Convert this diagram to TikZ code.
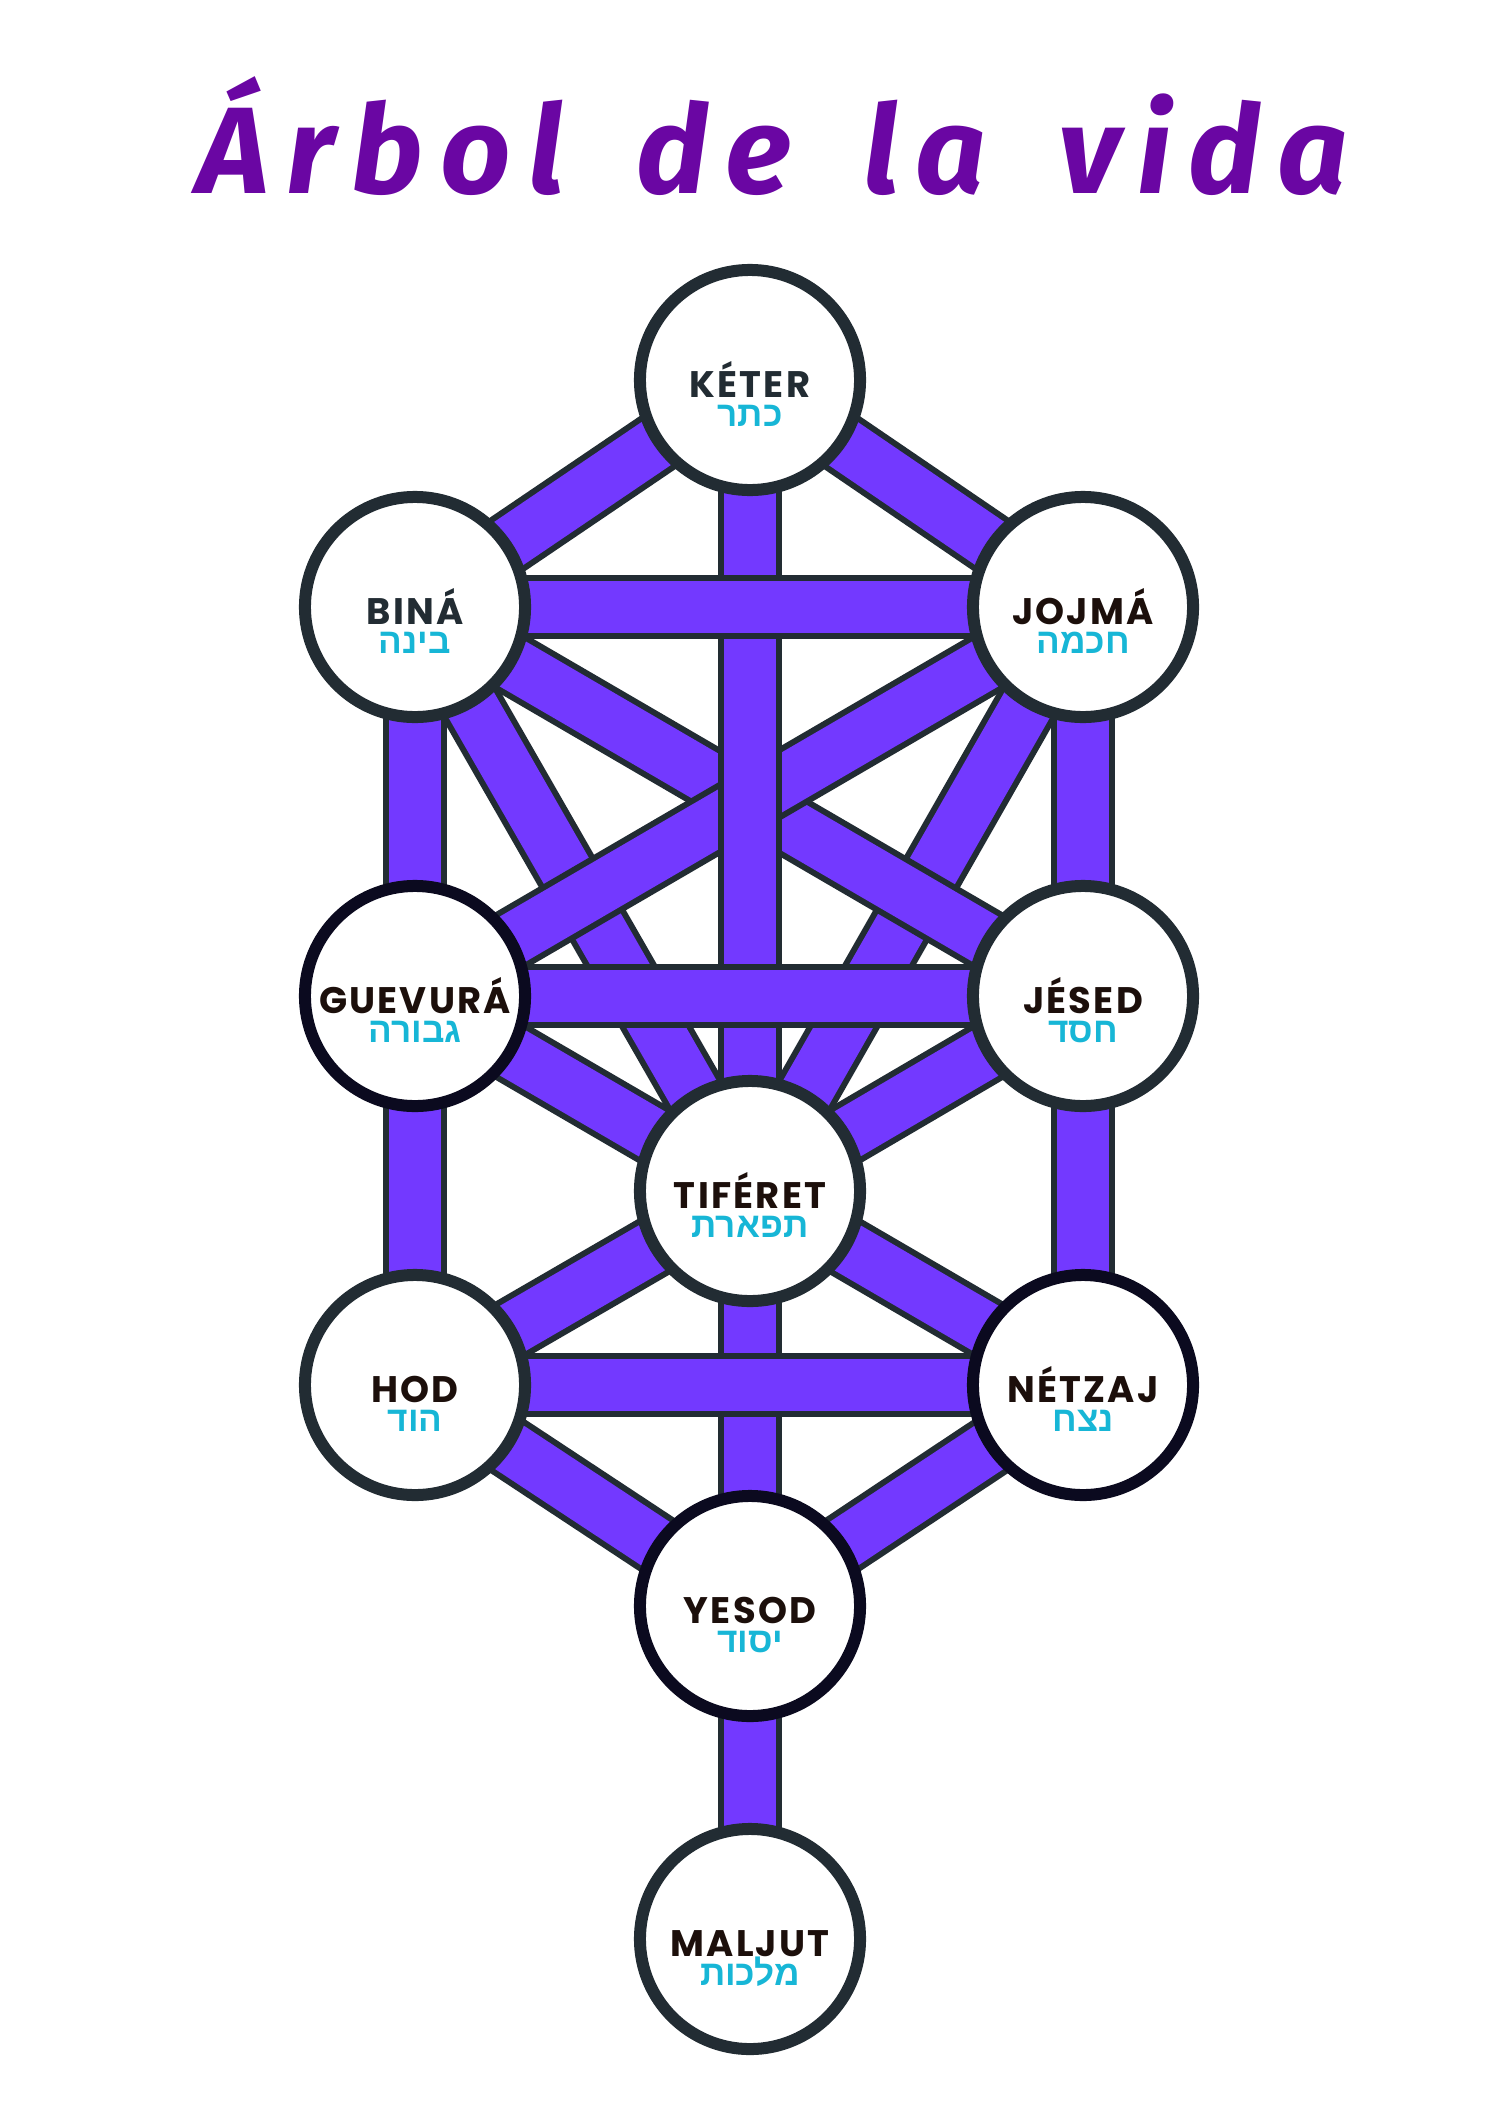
\documentclass[tikz,border=0pt]{standalone}
\usepackage{fontspec}
\usepackage{xcolor}
\usetikzlibrary{calc,backgrounds}
\TeXXeTstate=1
\newfontfamily\titlefont{Fira Sans}[LetterSpace=14, WordSpace=1.6]
\newfontfamily\namefont{Poppins}[LetterSpace=6]
\newfontfamily\hebfont[Script=Hebrew]{Liberation Sans}
\definecolor{barfill}{HTML}{7339FF}
\definecolor{slate}{HTML}{222C33}
\definecolor{nightink}{HTML}{0B0A1F}
\definecolor{cocoa}{HTML}{1C0F0B}
\definecolor{hebcyan}{HTML}{17B6D6}
\definecolor{titlepurple}{HTML}{6A06A3}
\tikzset{every node/.append style={inner sep=0pt}}

\begin{document}
\begin{tikzpicture}[x=0.01cm, y=-0.01cm,
    sefira/.style={circle, draw=slate, line width=0.12cm, fill=white, minimum size=2.2cm},
    dark sefira/.style={sefira, draw=nightink},
    bar/.style={draw=slate, line width=0.06cm, double=barfill, double distance=0.52cm},
    latin/.style={anchor=base, text=cocoa, font=\namefont\bfseries\fontsize{10.5}{12}\selectfont},
    hebrew/.style={anchor=base, text=hebcyan, font=\hebfont\bfseries\fontsize{10}{12}\selectfont}]
    \useasboundingbox (0,0) rectangle (1500,2121);
    % title
    \node[anchor=base, text=titlepurple, font=\titlefont\bfseries\itshape\fontsize{35}{40}\selectfont] (title) at (773,193) {Árbol de la vida};
    % the ten sefirot
    \node[sefira] (keter) at (750,380) {};
    \node[sefira] (bina) at (415,607) {};
    \node[sefira] (jojma) at (1083,607) {};
    \node[dark sefira] (guevura) at (415,996) {};
    \node[sefira] (jesed) at (1083,996) {};
    \node[sefira] (tiferet) at (750,1191) {};
    \node[sefira] (hod) at (415,1385) {};
    \node[dark sefira] (netzaj) at (1083,1385) {};
    \node[dark sefira] (yesod) at (750,1606) {};
    \node[sefira] (maljut) at (750,1939) {};
    % names
    \node[latin, text=slate] (keter-es) at ($(keter)+(0,17)$) {KÉTER};
    \node[hebrew] (keter-he) at ($(keter)+(0,46)$) {\beginR כתר\endR};
    \node[latin, text=slate] (bina-es) at ($(bina)+(0,17)$) {BINÁ};
    \node[hebrew] (bina-he) at ($(bina)+(0,46)$) {\beginR בינה\endR};
    \node[latin] (jojma-es) at ($(jojma)+(0,17)$) {JOJMÁ};
    \node[hebrew] (jojma-he) at ($(jojma)+(0,46)$) {\beginR חכמה\endR};
    \node[latin] (guevura-es) at ($(guevura)+(0,17)$) {GUEVURÁ};
    \node[hebrew] (guevura-he) at ($(guevura)+(0,46)$) {\beginR גבורה\endR};
    \node[latin] (jesed-es) at ($(jesed)+(0,17)$) {JÉSED};
    \node[hebrew] (jesed-he) at ($(jesed)+(0,46)$) {\beginR חסד\endR};
    \node[latin] (tiferet-es) at ($(tiferet)+(0,17)$) {TIFÉRET};
    \node[hebrew] (tiferet-he) at ($(tiferet)+(0,46)$) {\beginR תפארת\endR};
    \node[latin] (hod-es) at ($(hod)+(0,17)$) {HOD};
    \node[hebrew] (hod-he) at ($(hod)+(0,46)$) {\beginR הוד\endR};
    \node[latin] (netzaj-es) at ($(netzaj)+(0,17)$) {NÉTZAJ};
    \node[hebrew] (netzaj-he) at ($(netzaj)+(0,46)$) {\beginR נצח\endR};
    \node[latin] (yesod-es) at ($(yesod)+(0,17)$) {YESOD};
    \node[hebrew] (yesod-he) at ($(yesod)+(0,46)$) {\beginR יסוד\endR};
    \node[latin] (maljut-es) at ($(maljut)+(0,17)$) {MALJUT};
    \node[hebrew] (maljut-he) at ($(maljut)+(0,46)$) {\beginR מלכות\endR};
    % the paths, lowest first
    \begin{scope}[on background layer]
        \draw[bar] (bina.center) -- (tiferet.center);
        \draw[bar] (jojma.center) -- (tiferet.center);
        \draw[bar] (bina.center) -- (jesed.center);
        \draw[bar] (jojma.center) -- (guevura.center);
        \draw[bar] (keter.center) -- (tiferet.center);
        \draw[bar] (keter.center) -- (bina.center);
        \draw[bar] (keter.center) -- (jojma.center);
        \draw[bar] (bina.center) -- (jojma.center);
        \draw[bar] (guevura.center) -- (jesed.center);
        \draw[bar] (bina.center) -- (guevura.center);
        \draw[bar] (jojma.center) -- (jesed.center);
        \draw[bar] (guevura.center) -- (tiferet.center);
        \draw[bar] (jesed.center) -- (tiferet.center);
        \draw[bar] (guevura.center) -- (hod.center);
        \draw[bar] (jesed.center) -- (netzaj.center);
        \draw[bar] (tiferet.center) -- (hod.center);
        \draw[bar] (tiferet.center) -- (netzaj.center);
        \draw[bar] (tiferet.center) -- (yesod.center);
        \draw[bar] (hod.center) -- (netzaj.center);
        \draw[bar] (hod.center) -- (yesod.center);
        \draw[bar] (netzaj.center) -- (yesod.center);
        \draw[bar] (yesod.center) -- (maljut.center);
    \end{scope}
\end{tikzpicture}
\end{document}
